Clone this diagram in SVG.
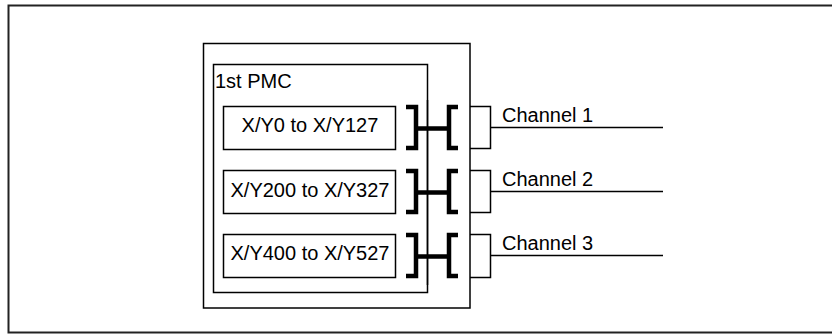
<svg xmlns="http://www.w3.org/2000/svg" width="832" height="334" viewBox="0 0 832 334">
<style>
.box{fill:#fff;stroke:#000;stroke-width:1.5}
.thin{fill:none;stroke:#000;stroke-width:1.5}
.br{fill:none;stroke:#000;stroke-width:4.5;stroke-linecap:butt;stroke-linejoin:miter}
.t{font-family:"Liberation Sans",Arial,sans-serif;font-size:20px;fill:#000}
</style>
<rect x="0" y="0" width="832" height="334" fill="#fff"/>
<rect id="frame" x="8.5" y="5.5" width="830" height="327" fill="none" stroke="#222" stroke-width="2"/>
<g id="unit">
<rect class="box" x="203.5" y="43.5" width="266.5" height="264.5"/>
</g>
<g id="pmc">
<rect class="box" x="213.5" y="64.5" width="214" height="228"/>
<text class="t" x="215" y="87.5">1st PMC</text>
</g>
<g id="range1">
<rect class="box" x="223.5" y="106.5" width="172" height="43"/>
<text class="t" x="310" y="131.5" text-anchor="middle">X/Y0 to X/Y127</text>
</g>
<g id="range2">
<rect class="box" x="223.5" y="170.5" width="172" height="43"/>
<text class="t" x="310" y="196.5" text-anchor="middle">X/Y200 to X/Y327</text>
</g>
<g id="range3">
<rect class="box" x="223.5" y="234.5" width="172" height="43"/>
<text class="t" x="310" y="260" text-anchor="middle">X/Y400 to X/Y527</text>
</g>
<g id="connectors">
<path class="br" d="M406,107 H416 V148 H406 M416,128.5 H449 M458,107 H449 V148 H458"/>
<path class="br" d="M406,171 H416 V212 H406 M416,192.5 H449 M458,171 H449 V212 H458"/>
<path class="br" d="M406,235 H416 V276 H406 M416,256.5 H449 M458,235 H449 V276 H458"/>
<line class="thin" x1="427.5" y1="100" x2="427.5" y2="285"/>
<path class="thin" d="M470,106.5 H490.5 V148.5 H470 M490.5,127.5 H663"/>
<path class="thin" d="M470,170.5 H490.5 V212.5 H470 M490.5,191.5 H663"/>
<path class="thin" d="M470,234.5 H490.5 V277.5 H470 M490.5,255.5 H663"/>
</g>
<g id="ch1"><text class="t" x="502" y="121.5">Channel 1</text></g>
<g id="ch2"><text class="t" x="502" y="185.5">Channel 2</text></g>
<g id="ch3"><text class="t" x="502" y="249.5">Channel 3</text></g>
</svg>
